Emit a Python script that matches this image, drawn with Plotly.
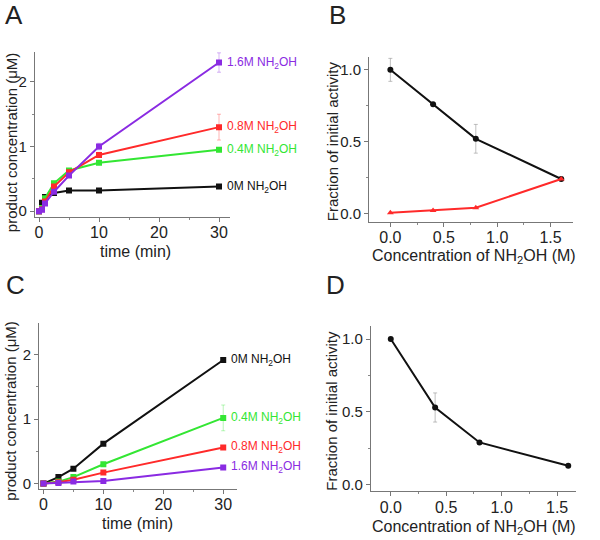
import plotly.graph_objects as go

# ---------------- data ----------------
# Panel A
timeA = [0, 0.5, 1, 2.5, 5, 10, 30]
A_0M = [0.0, 0.13, 0.22, 0.28, 0.32, 0.32, 0.38]
A_04M = [0.0, 0.05, 0.2, 0.43, 0.63, 0.75, 0.95]
A_08M = [0.0, 0.03, 0.15, 0.38, 0.6, 0.87, 1.3]
A_16M = [0.0, 0.02, 0.12, 0.3, 0.55, 1.0, 2.3]
A_16M_err = [0, 0, 0, 0, 0.02, 0.05, 0.15]
A_08M_err = [0, 0, 0, 0, 0.02, 0.04, 0.2]
A_04M_err = [0, 0, 0, 0, 0.02, 0.02, 0.03]
A_0M_err = [0, 0, 0, 0, 0.02, 0.03, 0.03]

# Panel B
concB = [0.0, 0.4, 0.8, 1.6]
B_rapid = [1.0, 0.76, 0.52, 0.24]
B_rapid_err = [0.08, 0.01, 0.1, 0.01]
B_slow = [0.005, 0.02, 0.04, 0.24]

# Panel C
timeC = [0, 2.5, 5, 10, 30]
C_0M = [0.0, 0.1, 0.23, 0.62, 1.92]
C_04M = [0.0, 0.03, 0.1, 0.3, 1.02]
C_08M = [0.0, 0.02, 0.06, 0.17, 0.56]
C_16M = [0.0, 0.01, 0.03, 0.04, 0.25]
C_04M_err = [0, 0, 0, 0.01, 0.2]

# Panel D
concD = [0.0, 0.4, 0.8, 1.6]
D_frac = [1.0, 0.53, 0.29, 0.13]
D_err = [0.0, 0.1, 0.01, 0.01]

labels = ["0M NH<sub>2</sub>OH", "0.4M NH<sub>2</sub>OH", "0.8M NH<sub>2</sub>OH", "1.6M NH<sub>2</sub>OH"]

BLACK = "#111111"
GREEN = "#33e633"
RED = "#ff2a2a"
PURPLE = "#8a2be2"
FONT = "Liberation Sans, Arial, sans-serif"

fig = go.Figure()


def add_line(x, y, color, xa, ya, symbol="square", err=None, errcolor=None):
    tr = dict(x=x, y=y, mode="lines+markers", xaxis=xa, yaxis=ya,
              line=dict(color=color, width=2),
              marker=dict(color=color, symbol=symbol, size=6),
              showlegend=False, hoverinfo="x+y")
    if err is not None:
        tr["error_y"] = dict(type="data", array=err, visible=True,
                             color=errcolor or "rgba(150,150,150,0.6)",
                             thickness=1, width=2)
    fig.add_trace(go.Scatter(**tr))


# Panel A
add_line(timeA, A_0M, BLACK, "x", "y", err=A_0M_err, errcolor="rgba(120,120,120,0.5)")
add_line(timeA, A_04M, GREEN, "x", "y", err=A_04M_err, errcolor="rgba(51,230,51,0.35)")
add_line(timeA, A_08M, RED, "x", "y", err=A_08M_err, errcolor="rgba(255,42,42,0.35)")
add_line(timeA, A_16M, PURPLE, "x", "y", err=A_16M_err, errcolor="rgba(138,43,226,0.35)")

# Panel B
add_line(concB, B_rapid, BLACK, "x2", "y2", symbol="circle", err=B_rapid_err,
         errcolor="rgba(150,150,150,0.6)")
add_line(concB, B_slow, RED, "x2", "y2", symbol="triangle-up")

# Panel C
add_line(timeC, C_0M, BLACK, "x3", "y3")
add_line(timeC, C_04M, GREEN, "x3", "y3", err=C_04M_err, errcolor="rgba(51,230,51,0.35)")
add_line(timeC, C_08M, RED, "x3", "y3")
add_line(timeC, C_16M, PURPLE, "x3", "y3")

# Panel D
add_line(concD, D_frac, BLACK, "x4", "y4", symbol="circle", err=D_err,
         errcolor="rgba(150,150,150,0.6)")

base = dict(showline=True, linecolor="#777777", linewidth=1, ticks="outside",
            ticklen=4, tickcolor="#777777", showgrid=False, zeroline=False)
xcommon = dict(base, tickfont=dict(family=FONT, size=16, color="#222222"),
               ticklabelstandoff=-3)
ycommon = dict(base, tickfont=dict(family=FONT, size=15, color="#222222"))


def minor(d):
    return dict(dtick=d, tick0=0, ticklen=2, ticks="outside", tickcolor="#888888")


fig.update_layout(
    width=600, height=540, margin=dict(l=0, r=0, t=0, b=0),
    paper_bgcolor="white", plot_bgcolor="white",
    font=dict(family=FONT, color="#222222"),
    xaxis=dict(domain=[0.058, 0.383], anchor="y", range=[-0.7, 31.8],
               tickvals=[0, 10, 20, 30], minor=minor(5), **xcommon),
    yaxis=dict(domain=[0.596, 0.904], anchor="x", range=[-0.09, 2.47],
               tickvals=[0, 1, 2], minor=minor(0.5), **ycommon),
    xaxis2=dict(domain=[0.615, 0.955], anchor="y2", range=[-0.2, 1.71],
                tickvals=[0, 0.5, 1.0, 1.5], ticktext=["0.0", "0.5", "1.0", "1.5"],
                minor=minor(0.25), **xcommon),
    yaxis2=dict(domain=[0.587, 0.894], anchor="x2", range=[-0.058, 1.09],
                tickvals=[0, 0.5, 1.0], ticktext=["0.0", "0.5", "1.0"],
                minor=minor(0.25), **ycommon),
    xaxis3=dict(domain=[0.065, 0.395], anchor="y3", range=[-0.74, 32.3],
                tickvals=[0, 10, 20, 30], minor=minor(5), **xcommon),
    yaxis3=dict(domain=[0.089, 0.398], anchor="x3", range=[-0.088, 2.49],
                tickvals=[0, 1, 2], minor=minor(0.5), **ycommon),
    xaxis4=dict(domain=[0.618, 0.96], anchor="y4", range=[-0.18, 1.67],
                tickvals=[0, 0.5, 1.0, 1.5], ticktext=["0.0", "0.5", "1.0", "1.5"],
                minor=minor(0.25), **xcommon),
    yaxis4=dict(domain=[0.085, 0.393], anchor="x4", range=[-0.046, 1.09],
                tickvals=[0, 0.5, 1.0], ticktext=["0.0", "0.5", "1.0"],
                minor=minor(0.25), **ycommon),
)

ann = []


def paper_text(text, px, py, size=14, angle=0, color="#222222", xanchor="center"):
    ann.append(dict(text=text, x=px / 600, y=1 - py / 540, xref="paper", yref="paper",
                    showarrow=False, textangle=angle, xanchor=xanchor, yanchor="middle",
                    font=dict(family=FONT, size=size, color=color)))


# panel letters
paper_text("A", 14, 15, size=26)
paper_text("B", 337, 15, size=26)
paper_text("C", 15, 287, size=26)
paper_text("D", 335, 287, size=26)

# axis titles
paper_text("product concentration (μM)", 11, 143, size=15, angle=-90)
paper_text("time (min)", 135, 253, size=16)
paper_text("Fraction of initial activity", 332, 142, size=15, angle=-90)
paper_text("Concentration of NH<sub>2</sub>OH (M)", 474, 258, size=16)
paper_text("product concentration (μM)", 11, 413, size=15, angle=-90)
paper_text("time (min)", 137, 526, size=16)
paper_text("Fraction of initial activity", 332, 413, size=15, angle=-90)
paper_text("Concentration of NH<sub>2</sub>OH (M)", 474, 530, size=16)


# series labels (data coordinates)
def data_text(text, x, y, xa, ya, color, xanchor="left", size=12):
    ann.append(dict(text=text, x=x, y=y, xref=xa, yref=ya, showarrow=False,
                    xanchor=xanchor, yanchor="middle",
                    font=dict(family=FONT, size=size, color=color)))


data_text(labels[3], 31, A_16M[-1], "x", "y", PURPLE)
data_text(labels[2], 31, A_08M[-1], "x", "y", RED)
data_text(labels[1], 31, A_04M[-1], "x", "y", GREEN)
data_text(labels[0], 31, A_0M[-1], "x", "y", BLACK)

data_text(labels[0], 31, C_0M[-1], "x3", "y3", BLACK)
data_text(labels[1], 31, C_04M[-1], "x3", "y3", GREEN)
data_text(labels[2], 31, C_08M[-1], "x3", "y3", RED)
data_text(labels[3], 31, C_16M[-1], "x3", "y3", PURPLE)

data_text("rapid phase rates", 1.93, 0.52, "x2", "y2", BLACK, xanchor="right")
data_text("slow phase rates", 1.93, 0.02, "x2", "y2", RED, xanchor="right")

fig.update_layout(annotations=ann)

# remove the default 8px body margin so the figure sits at the window's corner
fig.write_html("out.html", config={"displayModeBar": False},
               post_script="document.body.style.margin='0px';")
